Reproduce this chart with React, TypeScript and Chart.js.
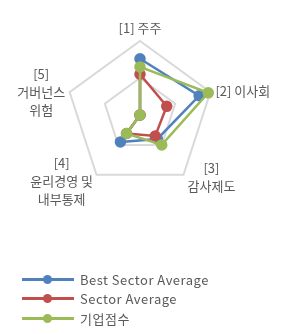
import React, { useEffect, useRef } from "react";
import { Chart, registerables } from "chart.js";

Chart.register(...registerables);

const categories: string[][] = [
  ["[1] 주주"],
  ["[2] 이사회"],
  ["[3]", "감사제도"],
  ["[4]", "윤리경영 및", "내부통제"],
  ["[5]", "거버넌스", "위험"],
];
const bestSectorAverage = [76, 84, 40, 45, 0];
const sectorAverage = [55, 38, 35, 31, 0];
const companyScore = [65, 97, 50, 31, 0];
const seriesNames = ["Best Sector Average", "Sector Average", "기업점수"];
const seriesColors = ["#4F81BD", "#C0504D", "#9BBB59"];

const FONT = "'Noto Sans CJK KR', 'Noto Sans', sans-serif";
const LABEL_COLOR = "#595959";
const LINE_H = 18;

// label placement relative to each vertex: anchor side and offsets
const labelPlacement = [
  { side: "top", dx: 0, dy: -13 },
  { side: "left", dx: 5, dy: -1 },
  { side: "left", dx: 4, dy: 2.5 },
  { side: "right", dx: -3.5, dy: 6.5 },
  { side: "right", dx: -4.5, dy: 0 },
];

const pointLabelPlugin = {
  id: "customPointLabels",
  afterDraw(chart: any) {
    const scale = chart.scales.r;
    const ctx = chart.ctx;
    ctx.save();
    ctx.font = `13px ${FONT}`;
    ctx.fillStyle = LABEL_COLOR;
    ctx.textBaseline = "middle";
    ctx.textAlign = "center";
    categories.forEach((lines, i) => {
      const p = scale.getPointPosition(i, scale.drawingArea);
      const pl = labelPlacement[i];
      const w = Math.max(...lines.map((l) => ctx.measureText(l).width));
      let cx = p.x + pl.dx;
      if (pl.side === "left") cx = p.x + pl.dx + w / 2;
      if (pl.side === "right") cx = p.x + pl.dx - w / 2;
      const cy = p.y + pl.dy;
      const top = cy - ((lines.length - 1) * LINE_H) / 2;
      lines.forEach((l, j) => ctx.fillText(l, cx, top + j * LINE_H));
    });
    ctx.restore();
  },
};

export default function App() {
  const ref = useRef<HTMLCanvasElement | null>(null);
  useEffect(() => {
    document.body.style.margin = "0";
    const values = [bestSectorAverage, sectorAverage, companyScore];
    const chart = new Chart(ref.current!, {
      type: "radar",
      data: {
        labels: categories.map((c) => c.join(" ")),
        datasets: values.map((v, i) => ({
          label: seriesNames[i],
          data: v,
          borderColor: seriesColors[i],
          backgroundColor: seriesColors[i],
          pointBackgroundColor: seriesColors[i],
          pointBorderColor: seriesColors[i],
          borderWidth: 2.5,
          pointRadius: 4.5,
          fill: false,
          clip: false as any,
          order: 2 - i,
        })),
      },
      options: {
        animation: false,
        responsive: false,
        maintainAspectRatio: false,
        layout: { padding: { top: 41, left: 66, right: 69, bottom: 145 } },
        plugins: { legend: { display: false }, tooltip: { enabled: false } },
        scales: {
          r: {
            min: 0,
            max: 100,
            ticks: { stepSize: 50, display: false },
            grid: { color: "#D9D9D9", lineWidth: 2 },
            angleLines: { display: false },
            pointLabels: { display: false },
          },
        },
      },
      plugins: [pointLabelPlugin],
    });
    return () => chart.destroy();
  }, []);

  return (
    <div style={{ width: 283, height: 334, position: "relative", background: "#fff" }}>
      <canvas ref={ref} width={283} height={334} style={{ display: "block" }} />
      <div style={{ position: "absolute", left: 22, top: 269.5 }}>
        {seriesNames.map((n, i) => (
          <div key={n} style={{ display: "flex", alignItems: "center", height: 19.5 }}>
            <div style={{ position: "relative", width: 52, height: 10, marginRight: 6 }}>
              <div style={{ position: "absolute", left: 0, right: 0, top: 3.5, height: 3, background: seriesColors[i] }} />
              <div style={{ position: "absolute", left: 21, top: 0.5, width: 9, height: 9, borderRadius: "50%", background: seriesColors[i] }} />
            </div>
            <span style={{ fontFamily: FONT, fontSize: 13, color: LABEL_COLOR, lineHeight: "19px", letterSpacing: 0.5 }}>{n}</span>
          </div>
        ))}
      </div>
    </div>
  );
}
